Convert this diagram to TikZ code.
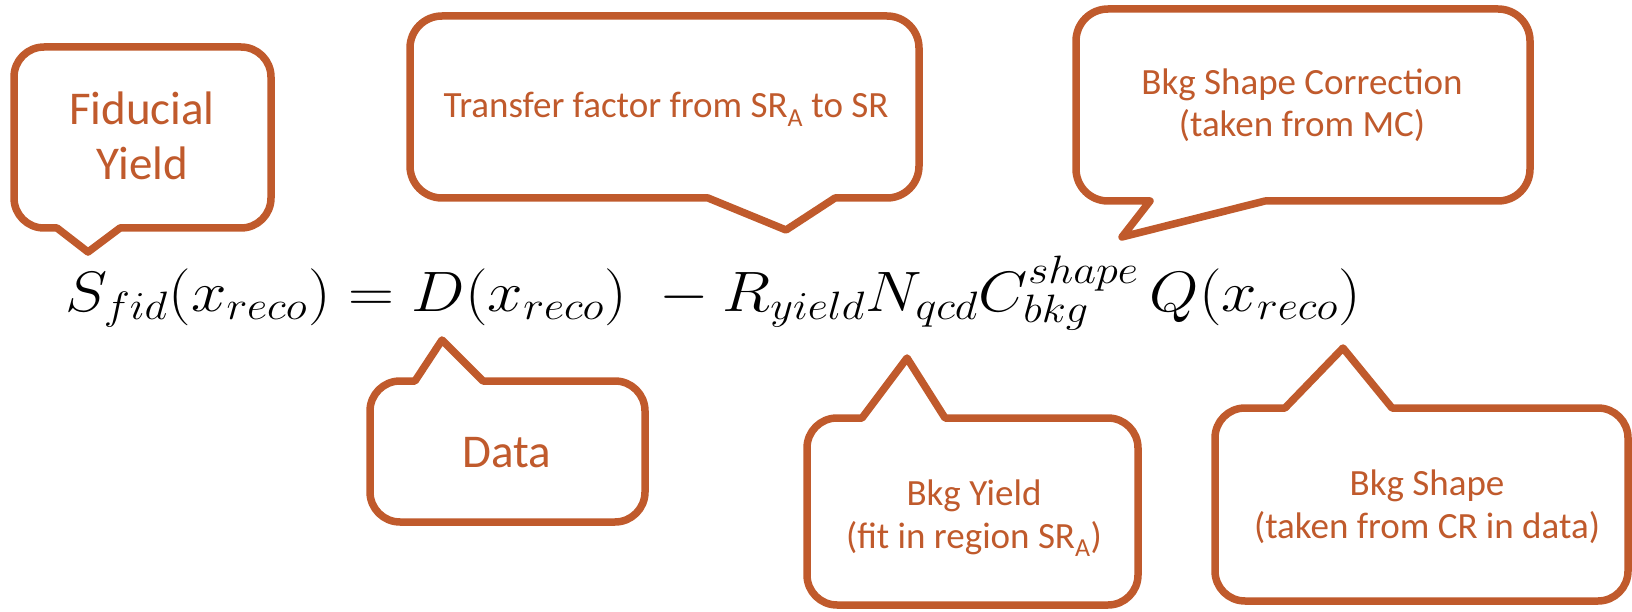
\documentclass[tikz,border=0pt]{standalone}
\usepackage{fontspec}
\setmainfont{Carlito}
% smaller sub/superscripts for the formula set at \Huge
\DeclareMathSizes{24.88}{24.88}{17.28}{14.4}

\definecolor{callout}{RGB}{192,90,44}
\tikzset{
  bubble/.style={draw=callout, line width=7.5pt, line join=round, fill=white},
  note/.style={text=callout, inner sep=0pt, anchor=base},
  bigtext/.style={note, font=\fontsize{47}{56}\selectfont},
  smalltext/.style={note, font=\fontsize{37}{44}\selectfont},
}

\begin{document}
\begin{tikzpicture}[x=1pt, y=-1pt]
\useasboundingbox (0,0) rectangle (1632,612);

% Fiducial yield callout (pointer down)
\draw[bubble] (44,47) -- (241,47) arc[start angle=-90,end angle=0,radius=30]
  -- (271,198) arc[start angle=0,end angle=90,radius=30]
  -- (120,228) -- (88,252) -- (57,228)
  -- (44,228) arc[start angle=90,end angle=180,radius=30]
  -- (14,77) arc[start angle=180,end angle=270,radius=30] -- cycle;
\node[bigtext] (fid1) at (142,125) {Fiducial};
\node[bigtext] (fid2) at (142,180) {Yield};

% Transfer factor callout (pointer down)
\draw[bubble] (442,16) -- (887,16) arc[start angle=-90,end angle=0,radius=32]
  -- (919,166) arc[start angle=0,end angle=90,radius=32]
  -- (835,198) -- (786,230) -- (708,198)
  -- (442,198) arc[start angle=90,end angle=180,radius=32]
  -- (410,48) arc[start angle=180,end angle=270,radius=32] -- cycle;
\node[smalltext] (tf) at (666,118) {Transfer factor from SR\textsubscript{A} to SR};

% Shape correction callout (pointer down-left)
\draw[bubble] (1108,9) -- (1498,9) arc[start angle=-90,end angle=0,radius=32]
  -- (1530,169) arc[start angle=0,end angle=90,radius=32]
  -- (1265,201) -- (1122,237) -- (1150,201)
  -- (1108,201) arc[start angle=90,end angle=180,radius=32]
  -- (1076,41) arc[start angle=180,end angle=270,radius=32] -- cycle;
\node[smalltext] (sc1) at (1302,95) {Bkg Shape Correction};
\node[smalltext] (sc2) at (1302,137) {(taken from MC)};

% Data callout (pointer up)
\draw[bubble] (400,381) -- (415,381) -- (442,340) -- (483,381)
  -- (615,381) arc[start angle=-90,end angle=0,radius=30]
  -- (645,492) arc[start angle=0,end angle=90,radius=30]
  -- (400,522) arc[start angle=90,end angle=180,radius=30]
  -- (370,411) arc[start angle=180,end angle=270,radius=30] -- cycle;
\node[bigtext] (data) at (507,467) {Data};

% Background yield callout (pointer up)
\draw[bubble] (837,418) -- (862,418) -- (907,358) -- (945,418)
  -- (1108,418) arc[start angle=-90,end angle=0,radius=30]
  -- (1138,575) arc[start angle=0,end angle=90,radius=30]
  -- (837,605) arc[start angle=90,end angle=180,radius=30]
  -- (807,448) arc[start angle=180,end angle=270,radius=30] -- cycle;
\node[smalltext] (by1) at (974,505) {Bkg Yield};
\node[smalltext] (by2) at (974,548) {(fit in region SR\textsubscript{A})};

% Background shape callout (pointer up)
\draw[bubble] (1245,408) -- (1285,408) -- (1343,348) -- (1392,408)
  -- (1598,408) arc[start angle=-90,end angle=0,radius=30]
  -- (1628,571) arc[start angle=0,end angle=90,radius=30]
  -- (1245,601) arc[start angle=90,end angle=180,radius=30]
  -- (1215,438) arc[start angle=180,end angle=270,radius=30] -- cycle;
\node[smalltext] (bs1) at (1427,495) {Bkg Shape};
\node[smalltext] (bs2) at (1427,538) {(taken from CR in data)};

% The extraction formula
\node[inner sep=0pt, anchor=base west, xscale=2.56, yscale=2.29, transform shape, font=\Huge] (eq) at (65,311)
  {$S_{fid}(x_{reco}) = D(x_{reco})\; - R_{yield}N_{qcd}C_{bkg}^{shape}\,Q(x_{reco})$};
\end{tikzpicture}
\end{document}
